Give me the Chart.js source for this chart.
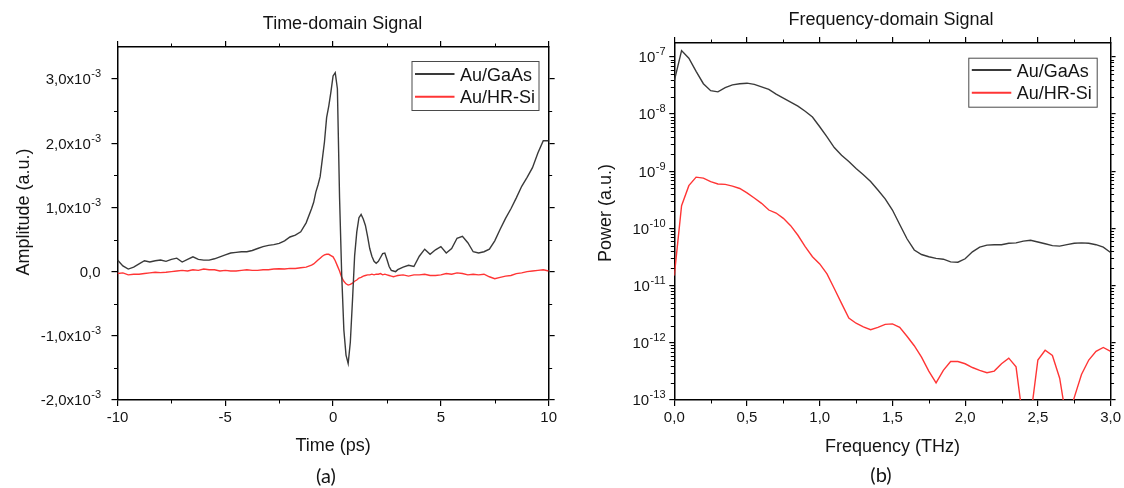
<!DOCTYPE html>
<html>
<head>
<meta charset="utf-8">
<title>Time- and frequency-domain THz signals</title>
<script src="https://cdn.jsdelivr.net/npm/chart.js@4.4.1/dist/chart.umd.min.js"></script>
<style>
  html, body { margin: 0; padding: 0; background: #fff; }
  #wrap { position: relative; width: 1124px; height: 488px; overflow: hidden; }
  #wrap canvas { position: absolute; top: 0; }
  #timeChart { left: 0; }
  #freqChart { left: 560px; }
</style>
</head>
<body>
<div id="wrap">
  <canvas id="timeChart" width="560" height="488"></canvas>
  <canvas id="freqChart" width="564" height="488"></canvas>
</div>
<script>
// ---------- (a) time-domain traces, amplitude in units of 1e-3 a.u. ----------
const timePs = [
  -10, -9.75, -9.5, -9.25, -9, -8.75, -8.5, -8.25, -8, -7.75, -7.5, -7.25, -7, -6.75, -6.5, -6.25, -6, -5.75,
  -5.5, -5.25, -5, -4.75, -4.5, -4.25, -4, -3.75, -3.5, -3.25, -3, -2.75, -2.5, -2.25, -2, -1.75, -1.5, -1.25,
  -1, -0.9, -0.8, -0.7, -0.6, -0.5, -0.4, -0.3, -0.2, -0.1, 0, 0.1, 0.2, 0.3, 0.4, 0.5, 0.6, 0.7, 0.8, 0.9,
  1, 1.1, 1.2, 1.3, 1.4, 1.5, 1.6, 1.7, 1.8, 1.9, 2, 2.1, 2.2, 2.3, 2.4, 2.5, 2.6, 2.7, 2.8, 2.9, 3,
  3.25, 3.5, 3.75, 4, 4.25, 4.5, 4.75, 5, 5.25, 5.5, 5.75, 6, 6.25, 6.5, 6.75, 7, 7.25, 7.5, 7.75, 8,
  8.25, 8.5, 8.75, 9, 9.25, 9.5, 9.75, 10
];
const gaasAmp = [
  0.18, 0.09, 0.04, 0.07, 0.12, 0.17, 0.15, 0.17, 0.18, 0.16, 0.19, 0.21, 0.15, 0.19, 0.23, 0.19, 0.18, 0.18,
  0.20, 0.23, 0.26, 0.29, 0.30, 0.31, 0.31, 0.33, 0.36, 0.39, 0.41, 0.42, 0.44, 0.48, 0.54, 0.57, 0.62, 0.76,
  0.98, 1.08, 1.24, 1.35, 1.48, 1.75, 2.02, 2.40, 2.58, 2.80, 3.05, 3.10, 2.85, 1.16, -0.05, -0.91, -1.30, -1.43, -1.10, -0.45,
  0.25, 0.62, 0.84, 0.89, 0.82, 0.72, 0.55, 0.36, 0.24, 0.16, 0.13, 0.16, 0.22, 0.28, 0.29, 0.19, 0.08, 0.02, 0.01, 0.00, 0.03,
  0.07, 0.10, 0.08, 0.24, 0.35, 0.27, 0.34, 0.39, 0.29, 0.36, 0.52, 0.55, 0.45, 0.31, 0.29, 0.31, 0.35, 0.48, 0.66, 0.83,
  0.98, 1.15, 1.33, 1.47, 1.62, 1.85, 2.04, 2.04
];
const hrsiAmp = [
  -0.03, -0.02, -0.05, -0.04, -0.04, -0.03, -0.02, -0.01, -0.015, -0.01, 0.00, 0.01, 0.02, 0.01, 0.03, 0.02, 0.04, 0.03,
  0.03, 0.01, 0.02, 0.01, 0.01, 0.02, 0.03, 0.02, 0.02, 0.03, 0.03, 0.04, 0.045, 0.04, 0.05, 0.05, 0.06, 0.07,
  0.10, 0.12, 0.15, 0.18, 0.21, 0.24, 0.26, 0.27, 0.27, 0.25, 0.23, 0.17, 0.09, 0.01, -0.09, -0.15, -0.19, -0.21, -0.20, -0.18,
  -0.15, -0.13, -0.10, -0.09, -0.07, -0.06, -0.05, -0.05, -0.04, -0.05, -0.04, -0.04, -0.03, -0.05, -0.04, -0.05, -0.06, -0.07, -0.08, -0.07, -0.06,
  -0.05, -0.07, -0.05, -0.05, -0.04, -0.06, -0.06, -0.05, -0.03, -0.04, -0.02, -0.03, -0.05, -0.04, -0.05, -0.04, -0.08, -0.11, -0.09, -0.07,
  -0.06, -0.03, -0.02, 0.00, 0.01, 0.02, 0.03, 0.01
];

// ---------- (b) power spectra ----------
const freqTHz = [
  0, 0.05, 0.1, 0.15, 0.2, 0.25, 0.3, 0.35, 0.4, 0.45,
  0.5, 0.55, 0.6, 0.65, 0.7, 0.75, 0.8, 0.85, 0.9, 0.95,
  1, 1.05, 1.1, 1.15, 1.2, 1.25, 1.3, 1.35, 1.4, 1.45,
  1.5, 1.55, 1.6, 1.65, 1.7, 1.75, 1.8, 1.85, 1.9, 1.95,
  2, 2.05, 2.1, 2.15, 2.2, 2.25, 2.3, 2.35, 2.4, 2.45,
  2.5, 2.55, 2.6, 2.65, 2.7, 2.75, 2.8, 2.85, 2.9, 2.95,
  3
];
const gaasPower = [
  3.8e-8, 1.29e-7, 9.5e-8, 5.6e-8, 3.4e-8, 2.57e-8, 2.45e-8, 2.9e-8, 3.24e-8, 3.4e-8,
  3.47e-8, 3.3e-8, 3.0e-8, 2.7e-8, 2.24e-8, 1.9e-8, 1.62e-8, 1.38e-8, 1.12e-8, 8.9e-9,
  6.0e-9, 4.0e-9, 2.6e-9, 1.9e-9, 1.48e-9, 1.12e-9, 8.7e-10, 6.6e-10, 4.7e-10, 3.3e-10,
  2.1e-10, 1.17e-10, 6.6e-11, 4.2e-11, 3.5e-11, 3.2e-11, 3.0e-11, 2.9e-11, 2.6e-11, 2.57e-11,
  2.95e-11, 3.9e-11, 4.7e-11, 5.1e-11, 5.2e-11, 5.2e-11, 5.5e-11, 5.6e-11, 6.0e-11, 6.2e-11,
  5.8e-11, 5.4e-11, 5.0e-11, 4.9e-11, 5.2e-11, 5.5e-11, 5.6e-11, 5.5e-11, 5.2e-11, 4.7e-11,
  3.8e-11
];
const hrsiPower = [
  1.5e-11, 2.5e-10, 5.6e-10, 7.9e-10, 7.6e-10, 6.6e-10, 6.0e-10, 5.9e-10, 5.5e-10, 5.0e-10,
  4.2e-10, 3.4e-10, 2.75e-10, 2.1e-10, 1.86e-10, 1.5e-10, 1.12e-10, 7.6e-11, 4.8e-11, 3.2e-11,
  2.4e-11, 1.6e-11, 8.9e-12, 4.9e-12, 2.7e-12, 2.2e-12, 1.9e-12, 1.7e-12, 1.86e-12, 2.1e-12,
  2.14e-12, 1.86e-12, 1.3e-12, 8.9e-13, 5.6e-13, 3.2e-13, 2.0e-13, 3.3e-13, 4.7e-13, 4.7e-13,
  4.3e-13, 3.7e-13, 3.3e-13, 3.0e-13, 3.2e-13, 4.3e-13, 5.4e-13, 3.8e-13, 4e-14, 5e-14,
  5.0e-13, 7.4e-13, 6.0e-13, 2.4e-13, 4e-14, 1.1e-13, 2.8e-13, 5.0e-13, 7.1e-13, 8.3e-13,
  7.1e-13
];

// ---------- tick positions ----------
const timeTicks = [-10, -5, 0, 5, 10];
const timeMinor = [-7.5, -2.5, 2.5, 7.5];
const ampTicks = [-2, -1, 0, 1, 2, 3];          // x 1e-3
const ampMinor = [-1.5, -0.5, 0.5, 1.5, 2.5];   // x 1e-3
const freqTicks = [0, 0.5, 1, 1.5, 2, 2.5, 3];
const freqMinor = [0.25, 0.75, 1.25, 1.75, 2.25, 2.75];
const powerDecades = [-13, -12, -11, -10, -9, -8, -7];

const seriesNames = ['Au/GaAs', 'Au/HR-Si'];
const seriesColors = ['#3a3a3a', '#ff3535'];

// ---------- helpers ----------
const FONT = "'Liberation Sans', Arial, sans-serif";
const CAPTION_FONT = "Lato, 'Open Sans', sans-serif";
const INK = '#141414';
const comma = (v, d) => v.toFixed(d).replace('.', ',');
const pairs = (xs, ys, k = 1) => xs.map((x, i) => ({ x, y: ys[i] * k }));

// fixes the thickness of an axis box so the plot area lands where wanted
const fixBox = size => s => { if (s.isHorizontal()) s.height = size; else s.width = size; };
const majors = list => s => { s.ticks = list.map(v => ({ value: v })); };

function axis(position, min, max, ticks, size, opts = {}) {
  return Object.assign({
    type: 'linear', position, min, max,
    afterBuildTicks: majors(ticks),
    afterFit: fixBox(size),
    grid: { drawOnChartArea: false, drawTicks: true, tickLength: 6, color: '#000', lineWidth: 1.2 },
    border: { display: true, color: '#000', width: 1.5 },
    ticks: { display: false, autoSkip: false, maxRotation: 0, color: INK, font: { family: FONT, size: 15 } }
  }, opts);
}

// y tick labels as mantissa + raised exponent, minor ticks, titles, caption, boxed legend
function panelDecor(o) {
  return {
    id: 'panelDecor',
    afterDraw(chart) {
      const { ctx, chartArea: a } = chart;
      const xs = chart.scales.x, ys = chart.scales.y;
      ctx.save();
      ctx.strokeStyle = '#000';
      ctx.lineWidth = 1;
      ctx.beginPath();
      o.minorX.forEach(v => {
        const p = Math.round(xs.getPixelForValue(v)) + 0.5;
        ctx.moveTo(p, a.bottom); ctx.lineTo(p, a.bottom + 3.5);
        ctx.moveTo(p, a.top); ctx.lineTo(p, a.top - 3.5);
      });
      o.minorY.forEach(v => {
        const p = Math.round(ys.getPixelForValue(v)) + 0.5;
        ctx.moveTo(a.left, p); ctx.lineTo(a.left - 3.5, p);
        ctx.moveTo(a.right, p); ctx.lineTo(a.right + 3.5, p);
      });
      ctx.stroke();

      // y tick labels
      ctx.fillStyle = INK;
      ctx.textBaseline = 'alphabetic';
      ctx.textAlign = 'left';
      ys.ticks.forEach(t => {
        const [base, exp] = o.yLabel(t.value);
        const y = ys.getPixelForValue(t.value);
        ctx.font = '11px ' + FONT;
        const ew = exp ? ctx.measureText(exp).width : 0;
        ctx.font = '15px ' + FONT;
        const bw = ctx.measureText(base).width;
        const x0 = o.yLabelRight - ew - bw;
        ctx.fillText(base, x0, y + 5.4);
        if (exp) {
          ctx.font = '11px ' + FONT;
          ctx.fillText(exp, x0 + bw + 0.5, y - 1.6);
        }
      });

      ctx.textAlign = 'center';
      ctx.font = '18px ' + FONT;
      ctx.fillText(o.title, o.titleX, o.titleY);
      ctx.fillText(o.xTitle, (a.left + a.right) / 2, o.xTitleY);
      ctx.save();
      ctx.translate(o.yTitleX, o.yTitleMid);
      ctx.rotate(-Math.PI / 2);
      ctx.fillText(o.yTitle, 0, 0);
      ctx.restore();
      ctx.font = '20px ' + CAPTION_FONT;
      ctx.fillText(o.caption, o.captionX, o.captionY);

      const L = o.legend;
      ctx.fillStyle = '#fff';
      ctx.fillRect(L.x, L.y, L.w, L.h);
      ctx.strokeStyle = '#4a4a4a';
      ctx.lineWidth = 1;
      ctx.strokeRect(L.x + 0.5, L.y + 0.5, L.w, L.h);
      ctx.textAlign = 'left';
      ctx.font = '18px ' + FONT;
      chart.data.datasets.forEach((ds, i) => {
        const cy = L.y + L.rows[i];
        ctx.strokeStyle = ds.borderColor;
        ctx.lineWidth = 2;
        ctx.beginPath();
        ctx.moveTo(L.x + 3.5, cy);
        ctx.lineTo(L.x + 43, cy);
        ctx.stroke();
        ctx.fillStyle = INK;
        ctx.fillText(ds.label, L.x + 48.5, cy + 6.5);
      });
      ctx.restore();
    }
  };
}

const lineStyle = i => ({
  label: seriesNames[i], borderColor: seriesColors[i], borderWidth: 1.4,
  pointRadius: 0, tension: 0, fill: false
});
const common = {
  responsive: false, animation: false, events: [],
  layout: { padding: 0, autoPadding: false },
  plugins: { legend: { display: false }, tooltip: { enabled: false }, title: { display: false } }
};

// ---------- (a) Time-domain Signal ----------
new Chart(document.getElementById('timeChart'), {
  type: 'line',
  data: {
    datasets: [
      Object.assign({ data: pairs(timePs, gaasAmp, 1e-3) }, lineStyle(0)),
      Object.assign({ data: pairs(timePs, hrsiAmp, 1e-3) }, lineStyle(1))
    ]
  },
  options: Object.assign({}, common, {
    scales: {
      x: axis('bottom', -10, 10, timeTicks, 88, {
        ticks: { display: true, autoSkip: false, maxRotation: 0, padding: 3, color: INK,
                 font: { family: FONT, size: 15 }, callback: v => String(v) }
      }),
      x2: axis('top', -10, 10, timeTicks, 47),
      y: axis('left', -2e-3, 3.5e-3, ampTicks.map(v => v * 1e-3), 117.5),
      y2: axis('right', -2e-3, 3.5e-3, ampTicks.map(v => v * 1e-3), 7)
    }
  }),
  plugins: [panelDecor({
    minorX: timeMinor, minorY: ampMinor.map(v => v * 1e-3),
    yLabelRight: 100.5,
    yLabel: v => Math.abs(v) < 1e-9 ? ['0,0', ''] : [comma(v * 1e3, 1) + 'x10', '-3'],
    title: 'Time-domain Signal', titleX: 342.5, titleY: 29.3,
    xTitle: 'Time (ps)', xTitleY: 450.5,
    yTitle: 'Amplitude (a.u.)', yTitleX: 28.5, yTitleMid: 212,
    caption: '(a)', captionX: 326, captionY: 482.5,
    legend: { x: 411.5, y: 61, w: 127, h: 49, rows: [13, 35.7] }
  })]
});

// ---------- (b) Frequency-domain Signal ----------
const powerMinor = [];
powerDecades.slice(0, -1).forEach(e => { for (let m = 2; m <= 9; m++) powerMinor.push(m * Math.pow(10, e)); });
const logAxis = (position, size) => axis(position, 1e-13, 1.75e-7, powerDecades.map(e => Math.pow(10, e)), size, {
  type: 'logarithmic',
  grid: { drawOnChartArea: false, drawTicks: true, tickLength: 5, color: '#000', lineWidth: 1.2 }
});

new Chart(document.getElementById('freqChart'), {
  type: 'line',
  data: {
    datasets: [
      Object.assign({ data: pairs(freqTHz, gaasPower) }, lineStyle(0)),
      Object.assign({ data: pairs(freqTHz, hrsiPower) }, lineStyle(1))
    ]
  },
  options: Object.assign({}, common, {
    scales: {
      x: axis('bottom', 0, 3, freqTicks, 88, {
        ticks: { display: true, autoSkip: false, maxRotation: 0, padding: 3, color: INK,
                 font: { family: FONT, size: 15 }, callback: v => comma(v, 1) }
      }),
      x2: axis('top', 0, 3, freqTicks, 43),
      y: logAxis('left', 114.3),
      y2: logAxis('right', 11)
    }
  }),
  plugins: [panelDecor({
    minorX: freqMinor, minorY: powerMinor,
    yLabelRight: 105,
    yLabel: v => ['10', String(Math.round(Math.log10(v)))],
    title: 'Frequency-domain Signal', titleX: 331, titleY: 25.3,
    xTitle: 'Frequency (THz)', xTitleY: 451.5,
    yTitle: 'Power (a.u.)', yTitleX: 50.5, yTitleMid: 213,
    caption: '(b)', captionX: 321, captionY: 481.5,
    legend: { x: 408.3, y: 57.7, w: 128.4, h: 49, rows: [12.3, 35] }
  })]
});
</script>
</body>
</html>
